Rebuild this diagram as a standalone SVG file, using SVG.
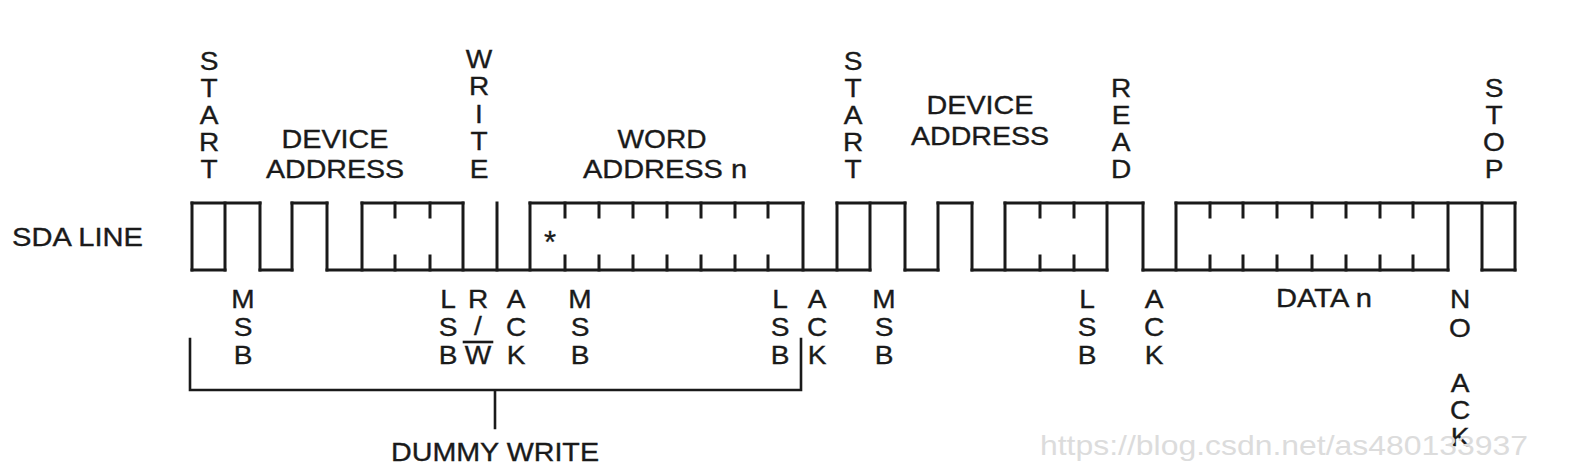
<svg xmlns="http://www.w3.org/2000/svg" width="1574" height="473" viewBox="0 0 1574 473">
<style>
.t{font-family:"Liberation Sans",Arial,sans-serif;font-size:25.5px;fill:#1a1a1a;stroke:#1a1a1a;stroke-width:0.35;text-anchor:middle}
.ts{font-family:"Liberation Sans",Arial,sans-serif;font-size:25.5px;fill:#1a1a1a;stroke:#1a1a1a;stroke-width:0.35}
.w{fill:none;stroke:#1a1a1a;stroke-width:3;stroke-linecap:square;stroke-linejoin:miter}
.b{fill:none;stroke:#1a1a1a;stroke-width:2.6;stroke-linecap:square}
.wm{font-family:"Liberation Sans",Arial,sans-serif;font-size:28px;fill:#dcdcdc}
</style>
<rect width="1574" height="473" fill="#ffffff"/>
<g id="sda-label"><text class="ts" x="12" y="246" textLength="131" lengthAdjust="spacingAndGlyphs">SDA LINE</text></g>
<g id="waveform">
<path class="w" d="M192,203H260M292,203H327M362,203H463M530,203H803M837,203H905M938,203H972M1005,203H1143M1176,203H1515"/>
<path class="w" d="M192,270H225M260,270H292M327,270H870M905,270H938M972,270H1107M1143,270H1448M1482,270H1515"/>
<path class="w" d="M192,203V270M225,203V270M260,203V270M292,203V270M327,203V270M362,203V270M463,203V270M497,203V270M530,203V270M803,203V270M837,203V270M870,203V270M905,203V270M938,203V270M972,203V270M1005,203V270M1107,203V270M1143,203V270M1176,203V270M1448,203V270M1482,203V270M1515,203V270"/>
<path class="w" d="M395,203v14M395,270v-14M430,203v14M430,270v-14M565,203v14M565,270v-14M599,203v14M599,270v-14M633,203v14M633,270v-14M667,203v14M667,270v-14M701,203v14M701,270v-14M735,203v14M735,270v-14M768,203v14M768,270v-14M1040,203v14M1040,270v-14M1074,203v14M1074,270v-14M1210,203v14M1210,270v-14M1243,203v14M1243,270v-14M1277,203v14M1277,270v-14M1312,203v14M1312,270v-14M1346,203v14M1346,270v-14M1380,203v14M1380,270v-14M1413,203v14M1413,270v-14"/>
<text class="t" x="550" y="253" style="font-size:31px">*</text>
</g>
<g id="top-labels">
<text class="t" transform="translate(209,0) scale(1.1,1)"><tspan x="0" y="70">S</tspan><tspan x="0" y="97">T</tspan><tspan x="0" y="124">A</tspan><tspan x="0" y="151">R</tspan><tspan x="0" y="178">T</tspan></text>
<text class="t" x="335" y="148" textLength="107" lengthAdjust="spacingAndGlyphs">DEVICE</text>
<text class="t" x="335" y="178" textLength="138" lengthAdjust="spacingAndGlyphs">ADDRESS</text>
<text class="t" transform="translate(479,0) scale(1.1,1)"><tspan x="0" y="68">W</tspan><tspan x="0" y="95.5">R</tspan><tspan x="0" y="123">I</tspan><tspan x="0" y="150.5">T</tspan><tspan x="0" y="178">E</tspan></text>
<text class="t" x="662" y="148" textLength="89" lengthAdjust="spacingAndGlyphs">WORD</text>
<text class="t" x="665" y="178" textLength="164" lengthAdjust="spacingAndGlyphs">ADDRESS n</text>
<text class="t" transform="translate(853,0) scale(1.1,1)"><tspan x="0" y="70">S</tspan><tspan x="0" y="97">T</tspan><tspan x="0" y="124">A</tspan><tspan x="0" y="151">R</tspan><tspan x="0" y="178">T</tspan></text>
<text class="t" x="980" y="114" textLength="107" lengthAdjust="spacingAndGlyphs">DEVICE</text>
<text class="t" x="980" y="145" textLength="138" lengthAdjust="spacingAndGlyphs">ADDRESS</text>
<text class="t" transform="translate(1121,0) scale(1.1,1)"><tspan x="0" y="97">R</tspan><tspan x="0" y="124">E</tspan><tspan x="0" y="151">A</tspan><tspan x="0" y="178">D</tspan></text>
<text class="t" transform="translate(1494,0) scale(1.1,1)"><tspan x="0" y="97">S</tspan><tspan x="0" y="124">T</tspan><tspan x="0" y="151">O</tspan><tspan x="0" y="178">P</tspan></text>
</g>
<g id="bottom-labels">
<text class="t" transform="translate(243,0) scale(1.1,1)"><tspan x="0" y="308">M</tspan><tspan x="0" y="336">S</tspan><tspan x="0" y="364">B</tspan></text>
<text class="t" transform="translate(448,0) scale(1.1,1)"><tspan x="0" y="308">L</tspan><tspan x="0" y="336">S</tspan><tspan x="0" y="364">B</tspan></text>
<text class="t" transform="translate(478,0) scale(1.1,1)"><tspan x="0" y="308">R</tspan><tspan x="0" y="335">/</tspan><tspan x="0" y="364">W</tspan></text>
<path class="b" d="M464,342H492"/>
<text class="t" transform="translate(516,0) scale(1.1,1)"><tspan x="0" y="308">A</tspan><tspan x="0" y="336">C</tspan><tspan x="0" y="364">K</tspan></text>
<text class="t" transform="translate(580,0) scale(1.1,1)"><tspan x="0" y="308">M</tspan><tspan x="0" y="336">S</tspan><tspan x="0" y="364">B</tspan></text>
<text class="t" transform="translate(780,0) scale(1.1,1)"><tspan x="0" y="308">L</tspan><tspan x="0" y="336">S</tspan><tspan x="0" y="364">B</tspan></text>
<text class="t" transform="translate(817,0) scale(1.1,1)"><tspan x="0" y="308">A</tspan><tspan x="0" y="336">C</tspan><tspan x="0" y="364">K</tspan></text>
<text class="t" transform="translate(884,0) scale(1.1,1)"><tspan x="0" y="308">M</tspan><tspan x="0" y="336">S</tspan><tspan x="0" y="364">B</tspan></text>
<text class="t" transform="translate(1087,0) scale(1.1,1)"><tspan x="0" y="308">L</tspan><tspan x="0" y="336">S</tspan><tspan x="0" y="364">B</tspan></text>
<text class="t" transform="translate(1154,0) scale(1.1,1)"><tspan x="0" y="308">A</tspan><tspan x="0" y="336">C</tspan><tspan x="0" y="364">K</tspan></text>
<text class="t" x="1324" y="307" textLength="96" lengthAdjust="spacingAndGlyphs">DATA n</text>
<text class="t" transform="translate(1460,0) scale(1.1,1)"><tspan x="0" y="308">N</tspan><tspan x="0" y="337">O</tspan><tspan x="0" y="392">A</tspan><tspan x="0" y="419">C</tspan><tspan x="0" y="446">K</tspan></text>
</g>
<g id="bracket">
<path class="b" d="M190,339V390H801V339M495,390V428"/>
<text class="t" x="495" y="461" textLength="208" lengthAdjust="spacingAndGlyphs">DUMMY WRITE</text>
</g>
<g id="watermark"><text class="wm" x="1040" y="455" textLength="488" lengthAdjust="spacingAndGlyphs">https://blog.csdn.net/as480133937</text></g>
</svg>
